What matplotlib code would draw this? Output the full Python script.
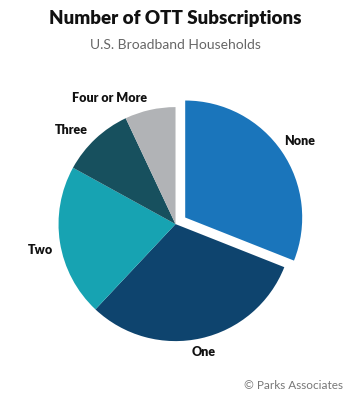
import matplotlib
matplotlib.use("Agg")
import numpy as np
import matplotlib.pyplot as plt

# OTT subscription counts, share of U.S. broadband households (%)
categories = ["None", "One", "Two", "Three", "Four or More"]
shares = [31, 31, 21, 10, 7]
colors = ["#1a75bb", "#0e446e", "#17a3b2", "#17505e", "#b1b3b6"]
explode = [0.1, 0, 0, 0, 0]

# per-label distance from the centre (in radii), angle nudge and alignment
label_dist = [1.07, 1.12, 1.07, 1.1, 1.1]
label_nudge = [3, 0, 3, 0, 0]
label_ha = ["left", "center", "right", "right", "right"]

fig = plt.figure(figsize=(3.5, 4), dpi=100)
fig.patch.set_facecolor("white")

ax = fig.add_axes([0, 0.001, 1.003, 0.8775])
wedges, texts = ax.pie(shares, labels=categories, colors=colors, explode=explode,
                       startangle=90, counterclock=False, labeldistance=1.1,
                       wedgeprops=dict(linewidth=0),
                       textprops=dict(fontsize=9, fontweight="heavy",
                                      family="Lato", color="#111111"))

for w, t, d, nd, ha, ex in zip(wedges, texts, label_dist, label_nudge, label_ha, explode):
    ang = np.deg2rad((w.theta1 + w.theta2) / 2 + nd)
    r = d + ex
    t.set_position((r * np.cos(ang), r * np.sin(ang)))
    t.set_ha(ha)

ax.set_xlim(-1.5, 1.5)
ax.set_ylim(-1.5, 1.5)
ax.set_aspect("equal")
ax.axis("off")

fig.text(0.5, 0.953, "Number of OTT Subscriptions", ha="center", va="center",
         fontsize=13.5, fontweight="heavy", family="Lato", color="#111111")
fig.text(0.5, 0.888, "U.S. Broadband Households", ha="center", va="center",
         fontsize=10, family="Lato", color="#666666")
fig.text(0.98, 0.037, "\u00a9 Parks Associates", ha="right", va="center",
         fontsize=8.5, family="Lato", color="#777777")

fig.savefig("out.png", dpi=100)
